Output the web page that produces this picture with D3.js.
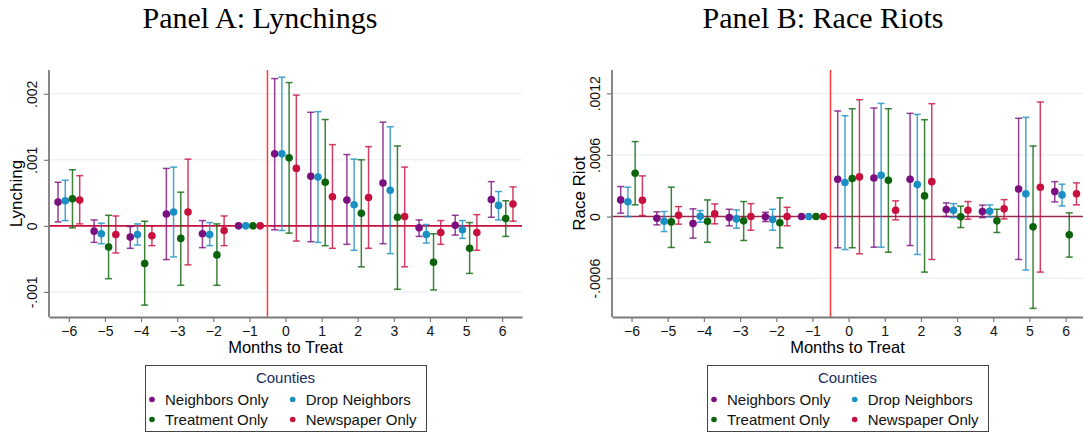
<!DOCTYPE html>
<html>
<head>
<meta charset="utf-8">
<script src="https://cdn.jsdelivr.net/npm/d3@7"></script>
<style>
  body { margin: 0; background: #fff; }
  svg { display: block; }
</style>
</head>
<body>
<div id="chart"></div>
<script>
const width = 1083;
const height = 433;

const months = [-6, -5, -4, -3, -2, -1, 0, 1, 2, 3, 4, 5, 6];
const seriesNames = ["Neighbors Only", "Drop Neighbors", "Treatment Only", "Newspaper Only"];
const seriesColors = ["#7b0f80", "#1b8fc4", "#0b640b", "#c8103f"];
const seriesOffsets = [-0.3, -0.1, 0.1, 0.3];

// Panel A: lynchings
const lynchNbrEst = [0.00036, -0.00008, -0.00017, 0.00018, -0.00012, 0, 0.00109, 0.00075, 0.00039, 0.00065, -0.00003, 0.00001, 0.0004];
const lynchNbrLo = [0.00006, -0.00025, -0.00034, -0.00051, -0.00033, null, -0.00006, -0.00024, -0.00028, -0.00027, -0.00016, -0.00014, 0.00013];
const lynchNbrHi = [0.00066, 0.00009, -0.00001, 0.00087, 0.00008, null, 0.00223, 0.00172, 0.00108, 0.00157, 0.00009, 0.00016, 0.00067];

const lynchDropEst = [0.00038, -0.00012, -0.00013, 0.00021, -0.00013, 0, 0.00109, 0.00074, 0.00032, 0.00054, -0.00013, -0.00006, 0.00031];
const lynchDropLo = [0.00008, -0.00027, -0.00029, -0.00047, -0.0003, null, -0.00007, -0.00025, -0.00037, -0.00042, -0.00026, -0.00019, 0.00009];
const lynchDropHi = [0.00069, 0.00004, 0.00003, 0.00089, 0.00005, null, 0.00225, 0.00173, 0.00101, 0.0015, 0.00002, 0.00008, 0.00052];

const lynchTreatEst = [0.00041, -0.00032, -0.00057, -0.00019, -0.00044, 0, 0.00103, 0.00066, 0.00019, 0.00013, -0.00055, -0.00034, 0.00011];
const lynchTreatLo = [-0.00003, -0.0008, -0.0012, -0.0009, -0.0009, null, -0.00011, -0.0003, -0.00062, -0.00096, -0.00097, -0.00072, -0.00016];
const lynchTreatHi = [0.00085, 0.00016, 0.00007, 0.00051, 0.00003, null, 0.00217, 0.00161, 0.001, 0.00121, -0.00012, 0.00005, 0.00038];

const lynchPaperEst = [0.00039, -0.00013, -0.00015, 0.00021, -0.00007, 0, 0.00087, 0.00044, 0.00043, 0.00014, -0.0001, -0.0001, 0.00033];
const lynchPaperLo = [0.00003, -0.00041, -0.0003, -0.00059, -0.0003, null, -0.00023, -0.00034, -0.00034, -0.00062, -0.00028, -0.00037, 0.00007];
const lynchPaperHi = [0.00076, 0.00015, 0.0, 0.00101, 0.00015, null, 0.00198, 0.00123, 0.0012, 0.00089, 0.00008, 0.00017, 0.00059];

const lynchTicks = [-0.001, 0, 0.001, 0.002];
const lynchTickLabels = ["-.001", "0", ".001", ".002"];

// Panel B: race riots
const riotNbrEst = [0.000162, -0.000016, -0.000068, -0.00001, -0.000003, 0, 0.000363, 0.000376, 0.000363, 0.000068, 0.000049, 0.000269, 0.000243];
const riotNbrLo = [0.000033, -0.000081, -0.00021, -0.00009, -0.000049, null, -0.000304, -0.000298, -0.000282, 0, -0.00001, -0.000418, 0.000143];
const riotNbrHi = [0.000292, 0.000046, 0.000075, 0.000071, 0.000042, null, 0.001028, 0.001057, 0.001005, 0.000133, 0.000111, 0.000957, 0.00034];

const riotDropEst = [0.000143, -0.000045, 0.000003, -0.000023, -0.000029, 0, 0.000331, 0.000402, 0.000311, 0.000062, 0.000052, 0.000221, 0.000211];
const riotDropLo = [0, -0.000146, -0.000055, -0.000113, -0.000133, null, -0.000321, -0.000298, -0.000369, -0.00001, -0.000003, -0.000521, 0.000104];
const riotDropHi = [0.000286, 0.000049, 0.000058, 0.000065, 0.000071, null, 0.000982, 0.001102, 0.000995, 0.000126, 0.000114, 0.000966, 0.000315];

const riotTreatEst = [0.000422, -0.000052, -0.000045, -0.000042, -0.000061, 0, 0.00037, 0.000354, 0.000201, -0.000003, -0.000042, -0.0001, -0.000178];
const riotTreatLo = [0.000114, -0.000301, -0.00025, -0.000233, -0.000304, null, -0.000304, -0.000347, -0.000541, -0.000107, -0.000155, -0.000894, -0.000395];
const riotTreatHi = [0.00073, 0.000286, 0.000162, 0.000146, 0.000182, null, 0.00105, 0.00105, 0.000943, 0.000101, 0.000071, 0.000687, 0.000036];

const riotPaperEst = [0.000159, 0.000013, 0.000026, 0, 0, 0, 0.000386, 0.000062, 0.00034, 0.000062, 0.000075, 0.000286, 0.000221];
const riotPaperLo = [0.00001, -0.000074, -0.000071, -0.000133, -0.00009, null, -0.000363, -0.000032, -0.000418, -0.000026, -0.000023, -0.000541, 0.000114];
const riotPaperHi = [0.000396, 0.000097, 0.000123, 0.000126, 0.00009, null, 0.001138, 0.000153, 0.001099, 0.000146, 0.000165, 0.001115, 0.000328];

const riotTicks = [-0.0006, 0, 0.0006, 0.0012];
const riotTickLabels = ["-.0006", "0", ".0006", ".0012"];

const svg = d3.select("#chart").append("svg")
    .attr("width", width)
    .attr("height", height)
    .style("font-family", "Liberation Sans, Arial, sans-serif");

function drawPanel(p) {
  const x = d3.scaleLinear().domain(p.xDomain).range([p.left, p.right]);
  const y = d3.scaleLinear().domain(p.yDomain).range([p.bottom, p.top]);
  const g = svg.append("g");

  // title
  g.append("text")
      .attr("x", p.titleX)
      .attr("y", 28)
      .attr("text-anchor", "middle")
      .style("font-family", "Liberation Serif, Times New Roman, serif")
      .style("font-size", "30px")
      .text(p.title);

  // gridlines
  g.append("g")
    .selectAll("line")
    .data(p.ticks.filter(t => t !== 0))
    .join("line")
      .attr("x1", p.left)
      .attr("x2", p.right)
      .attr("y1", d => y(d))
      .attr("y2", d => y(d))
      .attr("stroke", "#e4edf0")
      .attr("stroke-width", 1);

  // zero line and treatment line
  g.append("line")
      .attr("x1", p.left).attr("x2", p.right)
      .attr("y1", y(0)).attr("y2", y(0))
      .attr("stroke", p.zeroColor)
      .attr("stroke-width", 1.6);
  g.append("line")
      .attr("x1", x(-0.5)).attr("x2", x(-0.5))
      .attr("y1", p.top).attr("y2", p.bottom)
      .attr("stroke", "#ff3b3b")
      .attr("stroke-width", 1.5);

  // axes
  const yAxis = g.append("g")
      .attr("transform", `translate(${p.left},0)`)
      .call(d3.axisLeft(y)
        .tickValues(p.ticks)
        .tickFormat((d, i) => p.tickLabels[i])
        .tickSize(5)
        .tickSizeOuter(0));
  yAxis.select(".domain").attr("d", `M0,${p.top}V${p.bottom}`);
  yAxis.selectAll("text")
      .attr("x", 0)
      .attr("y", -12)
      .attr("dy", 0)
      .attr("text-anchor", "middle")
      .attr("transform", "rotate(-90)")
      .style("font-size", "14px");

  const xAxis = g.append("g")
      .attr("transform", `translate(0,${p.bottom})`)
      .call(d3.axisBottom(x)
        .tickValues(months)
        .tickSize(5)
        .tickPadding(4)
        .tickSizeOuter(0));
  xAxis.selectAll("text").style("font-size", "14px");

  [yAxis, xAxis].forEach(a => {
    a.selectAll(".domain").attr("stroke", "#7a7a7a").attr("stroke-width", 1.8);
    a.selectAll(".tick line").attr("stroke", "#7a7a7a").attr("stroke-width", 1.2);
    a.selectAll("text").attr("fill", "#111");
  });

  // axis titles
  g.append("text")
      .attr("transform", `translate(${p.left - 27},${(p.top + p.bottom) / 2}) rotate(-90)`)
      .attr("text-anchor", "middle")
      .style("font-size", "17px")
      .text(p.yLabel);
  g.append("text")
      .attr("x", (p.left + p.right) / 2)
      .attr("y", 353)
      .attr("text-anchor", "middle")
      .style("font-size", "16.5px")
      .text("Months to Treat");

  // confidence intervals
  p.series.forEach((s, si) => {
    const rows = months.map((m, i) => ({m, est: s.est[i], lo: s.lo[i], hi: s.hi[i]}));
    const cg = g.append("g")
        .attr("stroke", seriesColors[si])
        .attr("stroke-opacity", 0.8)
        .attr("stroke-width", 1.5);
    const withCi = rows.filter(d => d.lo !== null);
    const cx = d => x(d.m + seriesOffsets[si]);
    cg.selectAll(".ci").data(withCi).join("line")
        .attr("x1", cx).attr("x2", cx)
        .attr("y1", d => y(d.lo)).attr("y2", d => y(d.hi));
    cg.selectAll(".capHi").data(withCi).join("line")
        .attr("x1", d => cx(d) - 3.5).attr("x2", d => cx(d) + 3.5)
        .attr("y1", d => y(d.hi)).attr("y2", d => y(d.hi));
    cg.selectAll(".capLo").data(withCi).join("line")
        .attr("x1", d => cx(d) - 3.5).attr("x2", d => cx(d) + 3.5)
        .attr("y1", d => y(d.lo)).attr("y2", d => y(d.lo));
  });

  // point estimates
  p.series.forEach((s, si) => {
    g.append("g")
      .selectAll("circle")
      .data(months.map((m, i) => ({m, est: s.est[i]})))
      .join("circle")
        .attr("cx", d => x(d.m + seriesOffsets[si]))
        .attr("cy", d => y(d.est))
        .attr("r", 3.8)
        .attr("fill", seriesColors[si]);
  });

  // legend
  const lw = 281, lh = 67;
  const lx = (p.left + p.right) / 2 - lw / 2, ly = 365;
  const leg = g.append("g").attr("transform", `translate(${lx},${ly})`);
  leg.append("rect")
      .attr("x", 0.5).attr("y", 0.5)
      .attr("width", lw).attr("height", lh - 1)
      .attr("fill", "#fff")
      .attr("stroke", "#444")
      .attr("stroke-width", 1);
  leg.append("text")
      .attr("x", lw / 2)
      .attr("y", 18)
      .attr("text-anchor", "middle")
      .attr("fill", "#1a2b5f")
      .style("font-size", "15px")
      .text("Counties");
  const item = leg.selectAll(".item")
    .data(seriesNames)
    .join("g")
      .attr("transform", (d, i) => `translate(${(i % 2) * 140.7},${40 + Math.floor(i / 2) * 20})`);
  item.append("circle")
      .attr("cx", 7)
      .attr("cy", -5.5)
      .attr("r", 2.8)
      .attr("fill", (d, i) => seriesColors[i]);
  item.append("text")
      .attr("x", 20)
      .attr("y", 0)
      .style("font-size", "15px")
      .attr("fill", "#111")
      .text(d => d);
}

drawPanel({
  title: "Panel A: Lynchings",
  titleX: 260,
  yLabel: "Lynching",
  left: 49, right: 522, top: 70, bottom: 317,
  xDomain: [-6.55, 6.55],
  yDomain: [-0.00138, 0.00236],
  ticks: lynchTicks,
  tickLabels: lynchTickLabels,
  zeroColor: "#c8103f",
  series: [
    {est: lynchNbrEst, lo: lynchNbrLo, hi: lynchNbrHi},
    {est: lynchDropEst, lo: lynchDropLo, hi: lynchDropHi},
    {est: lynchTreatEst, lo: lynchTreatLo, hi: lynchTreatHi},
    {est: lynchPaperEst, lo: lynchPaperLo, hi: lynchPaperHi}
  ]
});

drawPanel({
  title: "Panel B: Race Riots",
  titleX: 823,
  yLabel: "Race Riot",
  left: 612, right: 1083, top: 70, bottom: 317,
  xDomain: [-6.54, 6.48],
  yDomain: [-0.000978, 0.001427],
  ticks: riotTicks,
  tickLabels: riotTickLabels,
  zeroColor: "#9c2a4c",
  series: [
    {est: riotNbrEst, lo: riotNbrLo, hi: riotNbrHi},
    {est: riotDropEst, lo: riotDropLo, hi: riotDropHi},
    {est: riotTreatEst, lo: riotTreatLo, hi: riotTreatHi},
    {est: riotPaperEst, lo: riotPaperLo, hi: riotPaperHi}
  ]
});
</script>
</body>
</html>
